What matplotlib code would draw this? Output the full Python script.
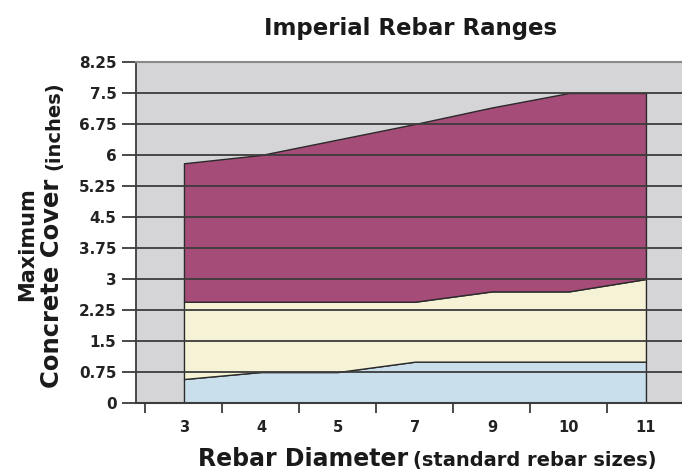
import matplotlib
matplotlib.use("Agg")
import matplotlib.pyplot as plt
import numpy as np

# ---- data ----
sizes = ['3', '4', '5', '7', '9', '10', '11']
min_cover = [0.58, 0.75, 0.75, 1.0, 1.0, 1.0, 1.0]
mid_cover = [2.45, 2.45, 2.45, 2.45, 2.7, 2.7, 3.0]
max_cover = [5.8, 6.0, 6.375, 6.75, 7.15, 7.5, 7.5]
y_ticks = [0, 0.75, 1.5, 2.25, 3, 3.75, 4.5, 5.25, 6, 6.75, 7.5, 8.25]
y_tick_labels = ['0', '0.75', '1.5', '2.25', '3', '3.75', '4.5', '5.25', '6', '6.75', '7.5', '8.25']

W, H = 682, 470
fig = plt.figure(figsize=(W / 100, H / 100), dpi=100)
fig.patch.set_facecolor('white')

def fx(px):
    return px / W

def fy(py):
    return (H - py) / H

ax = fig.add_axes([fx(136), fy(403), 1 - fx(136), fy(62) - fy(403)])
ax.set_facecolor('#d5d5d7')

x = np.arange(len(sizes))
edge = '#2a2a2a'
ax.fill_between(x, 0, min_cover, facecolor='#c9e0ec', edgecolor=edge, linewidth=1.0, zorder=2)
ax.fill_between(x, min_cover, mid_cover, facecolor='#f6f2d6', edgecolor=edge, linewidth=1.0, zorder=2)
ax.fill_between(x, mid_cover, max_cover, facecolor='#a64c78', edgecolor=edge, linewidth=1.0, zorder=2)

ax.set_xlim(-0.623, 6.468)
ax.set_ylim(0, 8.25)

# horizontal grid over the areas
for yv in y_ticks[1:-1]:
    ax.axhline(yv, color='#3c3c3c', linewidth=1.3, zorder=3)

ax.set_yticks(y_ticks)
ax.set_yticklabels(y_tick_labels, fontsize=11, fontweight='bold', color='#222222')
ax.tick_params(axis='y', direction='out', length=10, width=1.3, color='#3c3c3c', pad=4)

# x ticks between categories, labels at categories
ax.set_xticks(np.arange(-0.5, 6.0, 1.0))
ax.set_xticklabels([])
ax.tick_params(axis='x', direction='out', length=7, width=1.3, color='#3c3c3c')
ax.set_xticks(x, minor=True)
ax.set_xticklabels(sizes, minor=True, fontsize=10.5, fontweight='bold', color='#222222')
ax.tick_params(axis='x', which='minor', length=0, pad=12)

ax.spines['right'].set_visible(False)
ax.spines['top'].set_color('#8a8a8a')
ax.spines['top'].set_linewidth(1.5)
ax.spines['left'].set_color('#3c3c3c')
ax.spines['left'].set_linewidth(1.3)
ax.spines['bottom'].set_color('#3c3c3c')
ax.spines['bottom'].set_linewidth(1.5)
for s in ['top', 'left', 'bottom']:
    ax.spines[s].set_zorder(4)

# title
fig.text(fx(411), fy(28), 'Imperial Rebar Ranges', ha='center', va='center',
         fontsize=16.5, fontweight='bold', color='#1a1a1a')

# x label in two parts
fig.text(fx(408), fy(466), 'Rebar Diameter', ha='right', va='baseline',
         fontsize=17, fontweight='bold', color='#1a1a1a')
fig.text(fx(413), fy(466), '(standard rebar sizes)', ha='left', va='baseline',
         fontsize=14, fontweight='bold', color='#1a1a1a')

# y label
fig.text(fx(33), fy(244), 'Maximum', ha='center', va='baseline', rotation=90,
         rotation_mode='anchor', fontsize=15, fontweight='bold', color='#1a1a1a')
fig.text(fx(59), fy(388), 'Concrete Cover', ha='left', va='baseline', rotation=90,
         rotation_mode='anchor', fontsize=17.5, fontweight='bold', color='#1a1a1a')
fig.text(fx(59), fy(170), '(inches)', ha='left', va='baseline', rotation=90,
         rotation_mode='anchor', fontsize=14, fontweight='bold', color='#1a1a1a')

fig.savefig('out.png', dpi=100)
